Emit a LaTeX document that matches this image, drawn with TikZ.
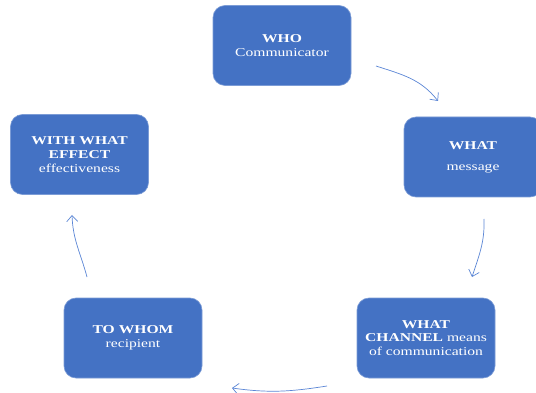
\documentclass[tikz,border=0pt]{standalone}
\usepackage{fontspec}
\setmainfont{Liberation Serif}[FakeStretch=1.3]
\usetikzlibrary{arrows.meta}
\definecolor{boxblue}{HTML}{4472C4}
\definecolor{arrowblue}{HTML}{5B86D6}
\tikzset{
  stagebox/.style={fill=boxblue, draw=boxblue!70!white, line width=0.6pt, rounded corners=12pt,
    minimum width=138pt, minimum height=80pt, text=white, align=center,
    font=\fontsize{12}{13.8}\selectfont, inner sep=2pt},
  flow/.style={draw=arrowblue, line width=0.7pt, -{Straight Barb[length=6pt,width=11pt]}}
}
\begin{document}
\begin{tikzpicture}[x=1pt,y=-1pt]
\useasboundingbox (0,0) rectangle (536,393);
\clip (0,0) rectangle (536,393);
\fill[white] (0,0) rectangle (536,393);
\node[stagebox] (who) at (282,45.5) {\textbf{WHO}\\Communicator};
\node[stagebox] (what) at (473,157) {\textbf{WHAT}\\[7pt]message};
\node[stagebox] (channel) at (426,338) {\textbf{WHAT}\\\textbf{CHANNEL} means\\of communication};
\node[stagebox] (towhom) at (133,338) {\textbf{TO WHOM}\\recipient};
\node[stagebox] (effect) at (79.5,154.5) {\textbf{WITH WHAT}\\\textbf{EFFECT}\\effectiveness};
\coordinate (a1s) at (376,66);
\coordinate (a1e) at (438,101);
\coordinate (a2s) at (484,219);
\coordinate (a2e) at (472,277);
\coordinate (a3s) at (327,386);
\coordinate (a3e) at (232,388);
\coordinate (a4s) at (87,277);
\coordinate (a4e) at (72,215);
\draw[flow] (a1s) to[out=-18,in=128] (a1e);
\draw[flow] (a2s) to[out=-88,in=72] (a2e);
\draw[flow] (a3s) to[out=189,in=-8] (a3e);
\draw[flow] (a4s) to[out=105,in=-88] (a4e);
\end{tikzpicture}
\end{document}
